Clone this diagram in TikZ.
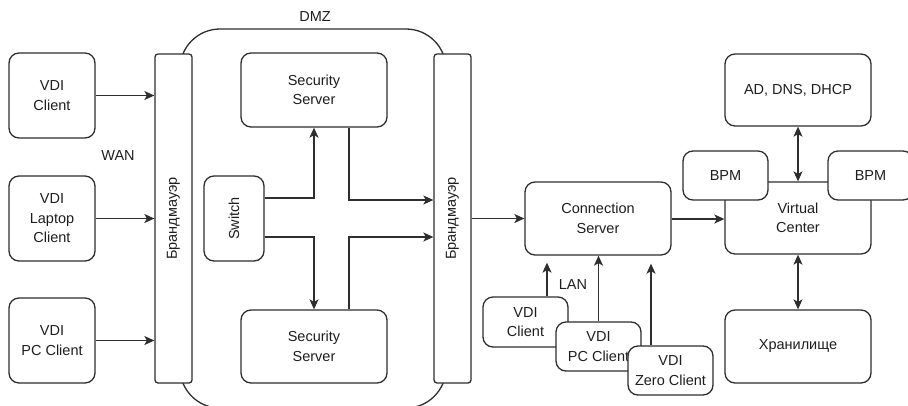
\documentclass[tikz,border=0pt]{standalone}
\usepackage{fontspec}
\setmainfont{Liberation Sans}
\usetikzlibrary{arrows.meta,calc}
\definecolor{ln}{HTML}{2E2E2E}
\definecolor{tx}{HTML}{1E1E1E}
\begin{document}
\begin{tikzpicture}[x=1pt,y=-1pt,
  every node/.style={font=\fontsize{14.5}{19.5}\selectfont,text=tx},
  box/.style={draw=ln,line width=1.3pt,fill=white,rounded corners=10pt,align=center,inner sep=0pt},
  fwbox/.style={draw=ln,line width=1.3pt,fill=white,rounded corners=3pt,inner sep=0pt,minimum width=37pt,minimum height=329pt},
  arr/.style={draw=ln,line width=1.3pt,-{Stealth[length=10pt,width=9pt,inset=2.5pt]}},
  darr/.style={draw=ln,line width=1.3pt,{Stealth[length=10pt,width=9pt,inset=2.5pt]}-{Stealth[length=10pt,width=9pt,inset=2.5pt]}},
  plain/.style={font=\fontsize{14.5}{19.5}\selectfont}]
\useasboundingbox (0,0) rectangle (908,405);
% DMZ
\draw[ln,line width=1.3pt,rounded corners=40pt] (180,29) rectangle (446,408);
\node[plain] (dmzl) at (315,17) {DMZ};
% WAN clients
\node[box,minimum width=86pt,minimum height=85pt] (c1) at (52,95.5) {VDI\\Client};
\node[box,minimum width=86pt,minimum height=85pt] (c2) at (52,218.5) {VDI\\Laptop\\Client};
\node[box,minimum width=86pt,minimum height=85pt] (c3) at (52,340.5) {VDI\\PC Client};
\node[plain] (wan) at (118,156) {WAN};
% Firewalls
\node[fwbox] (fw1) at (173.5,218.5) {};
\node[rotate=90] (fw1t) at (fw1.center) {Брандмауэр};
\node[fwbox] (fw2) at (452.5,218.5) {};
\node[rotate=90] (fw2t) at (fw2.center) {Брандмауэр};
% DMZ contents
\node[box,minimum width=60pt,minimum height=85pt] (sw) at (234,218.5) {};
\node[rotate=90] (swt) at (sw.center) {Switch};
\node[box,minimum width=146pt,minimum height=74pt] (ss1) at (314,90) {Security\\Server};
\node[box,minimum width=146pt,minimum height=73pt] (ss2) at (314,346.5) {Security\\Server};
% LAN side
\node[box,minimum width=146pt,minimum height=73pt] (conn) at (598,218.5) {Connection\\Server};
\node[box,minimum width=85pt,minimum height=50pt] (l1) at (525.5,322) {VDI\\Client};
\node[box,minimum width=85pt,minimum height=49pt] (l2) at (598.5,346.5) {VDI\\PC Client};
\node[box,minimum width=85pt,minimum height=49pt] (l3) at (670.5,370.5) {VDI\\Zero Client};
\node[plain] (lan) at (573,285) {LAN};
% Right side
\node[box,minimum width=146pt,minimum height=72pt] (ad) at (798,90) {AD, DNS, DHCP};
\node[box,minimum width=146pt,minimum height=72pt] (vcen) at (798,218) {Virtual\\Center};
\node[box,minimum width=85pt,minimum height=49pt] (b1) at (725.5,175.5) {BPM};
\node[box,minimum width=85pt,minimum height=49pt] (b2) at (870.5,175.5) {BPM};
\node[box,minimum width=146pt,minimum height=73pt] (st) at (798,346.5) {Хранилище};
% connectors
\draw[arr] (c1.east) -- (c1.east -| fw1.west);
\draw[arr] (c2.east) -- (c2.east -| fw1.west);
\draw[arr] (c3.east) -- (c3.east -| fw1.west);
\draw[arr] ([yshift=20.5pt]sw.east) -| (ss1.south);
\draw[arr] ([yshift=-18.5pt]sw.east) -| (ss2.north);
\draw[arr] ([xshift=35pt]ss1.south) |- ([yshift=18.5pt]fw2.west);
\draw[arr] ([xshift=35pt]ss2.north) |- ([yshift=-18.5pt]fw2.west);
\draw[arr] (fw2.east) -- (fw2.east -| conn.west);
\draw[arr] ([yshift=-0.5pt]conn.east) -- ([yshift=-0.5pt]conn.east -| vcen.west);
\draw[arr,shorten >=7pt] ([xshift=21.5pt]l1.north) -- ([xshift=-51pt]conn.south);
\draw[arr] (l2.north) -- (l2.north |- conn.south);
\draw[arr,shorten >=8pt] ([xshift=-19.5pt]l3.north) -- ([xshift=53pt]conn.south);
\draw[darr] (ad.south) -- (vcen.north);
\draw[darr] (vcen.south) -- (st.north);
\end{tikzpicture}
\end{document}
